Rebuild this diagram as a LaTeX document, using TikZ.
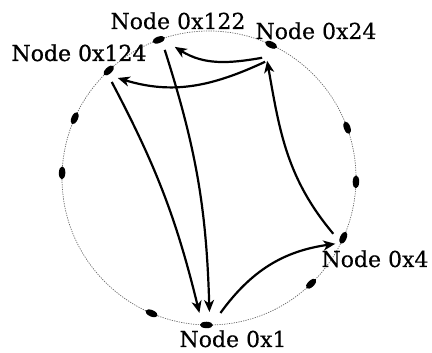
\documentclass[tikz,border=0pt]{standalone}
\usepackage{fontspec}
\setmainfont[FakeBold=0.3]{DejaVu Serif}
\newfontfamily\heavyserif[FakeBold=1]{DejaVu Serif}
\usetikzlibrary{arrows.meta,shapes.geometric,calc}
\begin{document}
\begin{tikzpicture}[x=1pt,y=1pt,
  peer/.style={ellipse,fill=black,minimum width=13pt,minimum height=6.5pt,inner sep=0pt},
  lbl/.style={font=\fontsize{22}{26}\selectfont,anchor=base,inner sep=0pt},
  link/.style={line width=2.2pt,-{Stealth[length=12pt,width=10pt,inset=3.5pt]}}]
\useasboundingbox (0,0) rectangle (432,353);
\coordinate (C) at (209,175);
\draw[black!60,line width=0.7pt,dash pattern=on 1.2pt off 1.2pt] (C) circle[radius=147];
% peers on the ring
\node[peer,rotate=200] (n122) at ($(C)+(110:147)$) {};
\node[peer,rotate=155] (n24)  at ($(C)+(65:147)$) {};
\node[peer,rotate=223] (n124) at ($(C)+(133:147)$) {};
\node[peer,rotate=246] (pa)   at ($(C)+(156:147)$) {};
\node[peer,rotate=268] (pb)   at ($(C)+(178:147)$) {};
\node[peer,rotate=110] (pc)   at ($(C)+(20:147)$) {};
\node[peer,rotate=88.5] (pd)  at ($(C)+(-1.5:147)$) {};
\node[peer,rotate=66]  (n4)   at ($(C)+(-24:147)$) {};
\node[peer,rotate=44]  (pe)   at ($(C)+(-46:147)$) {};
\node[peer,rotate=-1]  (n1)   at ($(C)+(-91:147)$) {};
\node[peer,rotate=-23] (pf)   at ($(C)+(-113:147)$) {};
% labels
\node[lbl] (l122) at (178,324) {Node 0x122};
\node[lbl] (l24)  at (316,314) {Node 0x24};
\node[lbl] (l124) at (79,292) {\heavyserif Node 0x124};
\node[lbl] (l4)   at (375,86) {Node 0x4};
\node[lbl] (l1)   at (233,6) {Node 0x1};
% links
\draw[link] ([shift={(-9,-13)}]n24.center) to[out=190,in=-32] ([shift={(16,-7)}]n122.center);
\draw[link] ([shift={(-6,-17)}]n24.center) to[out=205,in=-17] ([shift={(9,-7.5)}]n124.center);
\draw[link] ([shift={(-10,4)}]n4.center) to[out=130,in=-80] ([shift={(-4,-16)}]n24.center);
\draw[link] ([shift={(3,-11.5)}]n124.center) to[bend left=7] ([shift={(-7,12)}]n1.center);
\draw[link] ([shift={(6,-10)}]n122.center) to[bend left=8] ([shift={(3,13)}]n1.center);
\draw[link] ([shift={(14,12)}]n1.center) to[bend left=23] ([shift={(-8,-6)}]n4.center);
\end{tikzpicture}
\end{document}
